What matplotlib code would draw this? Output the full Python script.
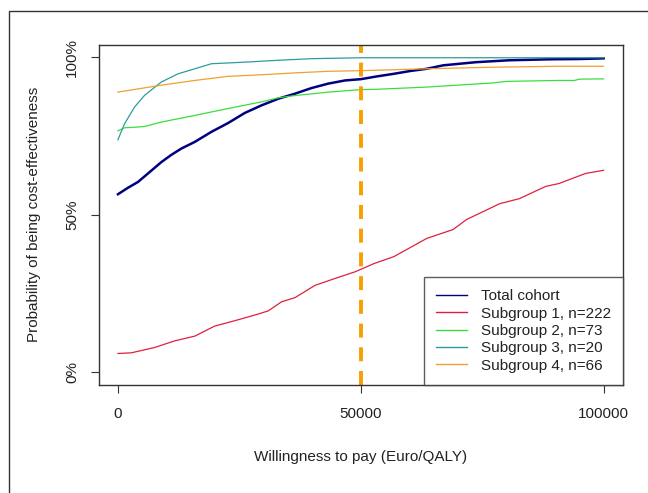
# Cost-effectiveness acceptability curves (total cohort and four subgroups)
import matplotlib
matplotlib.use("Agg")
import matplotlib.pyplot as plt
from matplotlib.lines import Line2D
from matplotlib.patches import Rectangle
from matplotlib.ticker import FuncFormatter

plt.rcParams["font.family"] = ["Liberation Sans", "DejaVu Sans"]

# values (willingness to pay, probability)
total_x = [0, 2000, 4127, 6500, 8940, 11000, 13067, 15818, 19257, 22696, 26135,
           29573, 33012, 36451, 39890, 43328, 46767, 50000, 53400, 56800, 60200,
           63600, 67000, 70400, 73800, 80600, 88800, 95000, 100000]
total_y = [0.565, 0.585, 0.604, 0.635, 0.667, 0.690, 0.710, 0.731, 0.763, 0.791,
           0.823, 0.847, 0.868, 0.884, 0.902, 0.916, 0.926, 0.930, 0.939, 0.947,
           0.956, 0.963, 0.974, 0.979, 0.984, 0.990, 0.993, 0.994, 0.996]

sub1_x = [0, 2750, 7565, 11692, 15818, 19945, 24071, 28198, 30949, 33700, 36451,
          40577, 44704, 48831, 52700, 56800, 63600, 69000, 71800, 78600, 82650,
          88100, 90800, 96300, 100000]
sub1_y = [0.060, 0.062, 0.079, 0.100, 0.115, 0.147, 0.164, 0.182, 0.195, 0.224,
          0.237, 0.276, 0.298, 0.319, 0.345, 0.367, 0.425, 0.453, 0.485, 0.535,
          0.551, 0.590, 0.599, 0.631, 0.641]

sub2_x = [0, 1375, 3000, 5502, 8940, 15818, 22696, 29573, 33012, 36451, 43328,
          50000, 53400, 63600, 77200, 80000, 90800, 94000, 95000, 100000]
sub2_y = [0.766, 0.776, 0.777, 0.780, 0.794, 0.815, 0.837, 0.858, 0.871, 0.878,
          0.889, 0.897, 0.898, 0.905, 0.918, 0.923, 0.926, 0.926, 0.930, 0.931]

sub3_x = [0, 1375, 3439, 5502, 8940, 12380, 15818, 19257, 26135, 33012, 39890,
          50000, 75000, 100000]
sub3_y = [0.738, 0.789, 0.842, 0.879, 0.921, 0.947, 0.963, 0.979, 0.984, 0.990,
          0.995, 0.998, 0.998, 0.998]

sub4_x = [0, 8940, 15818, 22696, 29573, 36451, 43328, 50000, 63600, 77200, 90800,
          100000]
sub4_y = [0.889, 0.911, 0.926, 0.939, 0.944, 0.950, 0.955, 0.957, 0.963, 0.968,
          0.971, 0.971]

threshold = 50000
labels = ["Total cohort", "Subgroup 1, n=222", "Subgroup 2, n=73",
          "Subgroup 3, n=20", "Subgroup 4, n=66"]
colors = ["#000080", "#e0203c", "#3ddc3d", "#2e9c9c", "#f0a030"]

fig = plt.figure(figsize=(6.48, 4.93), dpi=100)
ax = fig.add_axes([98.5 / 648, 1 - 385 / 493, (623 - 98.5) / 648, (385 - 44.5) / 493])

ax.plot(total_x, total_y, color=colors[0], lw=1.8)
ax.plot(sub1_x, sub1_y, color=colors[1], lw=0.9)
ax.plot(sub2_x, sub2_y, color=colors[2], lw=0.9)
ax.plot(sub3_x, sub3_y, color=colors[3], lw=0.9)
ax.plot(sub4_x, sub4_y, color=colors[4], lw=0.9)
ax.axvline(threshold, color="#f5a000", lw=2.8, linestyle=(0, (3.6, 2.5)))

ax.set_xlim(-4000, 104000)
ax.set_ylim(-0.04, 1.04)
ax.set_xticks([0, 50000, 100000])
ax.set_yticks([0, 0.5, 1.0])
ax.yaxis.set_major_formatter(FuncFormatter(lambda v, p: f"{v * 100:.0f}%"))
ax.tick_params(direction="out", length=6, width=0.8, color="#333333",
               labelsize=11, labelcolor="#222222", pad=8)
ax.tick_params(axis="x", pad=10)
for lab in ax.get_yticklabels():
    lab.set_rotation(90)
    lab.set_va("center")
for sp in ax.spines.values():
    sp.set_color("#333333")
    sp.set_linewidth(1.0)

ax.set_xlabel("Willingness to pay (Euro/QALY)", fontsize=11, color="#222222", labelpad=21)
ax.set_ylabel("Probability of being cost-effectiveness", fontsize=11, color="#222222",
              labelpad=17)

handles = [Line2D([0], [0], color=c, lw=1) for c in colors]
leg = ax.legend(handles, labels, loc="lower right", borderaxespad=0, fontsize=11,
                frameon=True, fancybox=False, handlelength=2.0, handletextpad=0.9,
                labelspacing=0.22, borderpad=0.8)
leg.get_frame().set_edgecolor("#333333")
leg.get_frame().set_linewidth(1.0)
for t in leg.get_texts():
    t.set_color("#222222")

# outer frame of the figure panel
fig.add_artist(Rectangle((9 / 648, -0.2), 1.2, 1 - 11 / 493 + 0.2, fill=False,
                         transform=fig.transFigure, ec="#333333", lw=1.0))

fig.savefig("out.png", dpi=100)
